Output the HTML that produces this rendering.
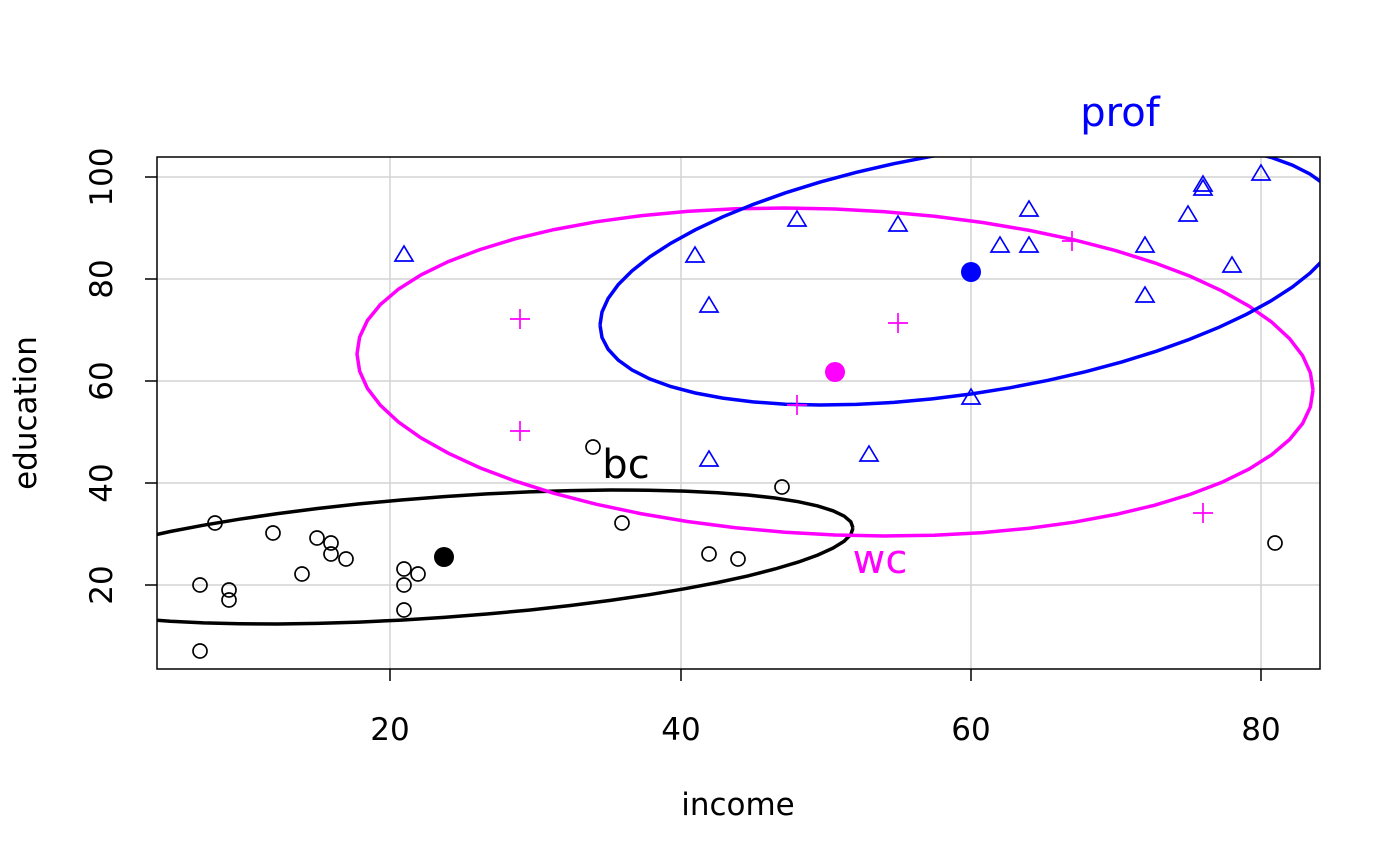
<!DOCTYPE html>
<html><head><meta charset="utf-8"><style>body{margin:0;background:#fff}svg{display:block}text{font-family:"DejaVu Sans","Liberation Sans",sans-serif}</style></head><body>
<svg width="1400" height="866" xmlns="http://www.w3.org/2000/svg">
<defs><clipPath id="c"><rect x="157" y="157" width="1163" height="512"/></clipPath></defs>
<g stroke="#d3d3d3" stroke-width="1.5">
<line x1="390" y1="157" x2="390" y2="669"/><line x1="681" y1="157" x2="681" y2="669"/><line x1="971" y1="157" x2="971" y2="669"/><line x1="1261" y1="157" x2="1261" y2="669"/>
<line x1="157" y1="585" x2="1320" y2="585"/><line x1="157" y1="483" x2="1320" y2="483"/><line x1="157" y1="381" x2="1320" y2="381"/><line x1="157" y1="279" x2="1320" y2="279"/><line x1="157" y1="177" x2="1320" y2="177"/>
</g>
<g id="ell" clip-path="url(#c)" fill="none" stroke-width="3.5"></g>
<g id="pts" fill="none" stroke-width="1.7"></g>
<rect x="157" y="157" width="1163" height="512" fill="none" stroke="#000" stroke-width="1.5"/>
<g stroke="#000" stroke-width="1.5">
<line x1="390" y1="669" x2="390" y2="681"/><line x1="681" y1="669" x2="681" y2="681"/><line x1="971" y1="669" x2="971" y2="681"/><line x1="1261" y1="669" x2="1261" y2="681"/>
<line x1="145" y1="585" x2="157" y2="585"/><line x1="145" y1="483" x2="157" y2="483"/><line x1="145" y1="381" x2="157" y2="381"/><line x1="145" y1="279" x2="157" y2="279"/><line x1="145" y1="177" x2="157" y2="177"/>
</g>
<g font-size="31" text-anchor="middle">
<text x="390" y="740">20</text><text x="681" y="740">40</text><text x="971" y="740">60</text><text x="1261" y="740">80</text>
<text transform="translate(112,585) rotate(-90)">20</text><text transform="translate(112,483) rotate(-90)">40</text><text transform="translate(112,381) rotate(-90)">60</text><text transform="translate(112,279) rotate(-90)">80</text><text transform="translate(112,177) rotate(-90)">100</text>
<text x="738" y="815">income</text>
<text transform="translate(36,413) rotate(-90)">education</text>
</g>
<g font-size="40" text-anchor="middle">
<text x="1120" y="126" fill="#00f">prof</text>
<text x="626" y="478" fill="#000">bc</text>
<text x="880" y="573" fill="#f0f">wc</text>
</g>
<circle cx="444" cy="557" r="10" fill="#000"/>
<circle cx="835" cy="372" r="10" fill="#f0f"/>
<circle cx="971" cy="272" r="10" fill="#00f"/>
</svg>
<script>
const ns="http://www.w3.org/2000/svg";
function ell(c,a,b,col){let d="";for(let i=0;i<=60;i++){const t=i/60*2*Math.PI;const x=c[0]+a[0]*Math.cos(t)+b[0]*Math.sin(t),y=c[1]+a[1]*Math.cos(t)+b[1]*Math.sin(t);d+=(i?"L":"M")+x.toFixed(1)+","+y.toFixed(1);}const p=document.createElementNS(ns,"path");p.setAttribute("d",d);p.setAttribute("stroke",col);document.getElementById("ell").appendChild(p);}
ell([444,557],[409,-29],[0,-60.4],"#000");
ell([835,372],[478,18],[0,-163],"#f0f");
ell([971,272],[-371,53],[0,122],"#00f");
const g=document.getElementById("pts");
function add(tag,attrs){const e=document.createElementNS(ns,tag);for(const k in attrs)e.setAttribute(k,attrs[k]);g.appendChild(e);}
[[200,651],[200,585],[215,523],[229,590],[229,600],[273,533],[302,574],[317,538],[331,543],[331,554],[346,559],[404,569],[404,585],[404,610],[418,574],[593,447],[622,523],[709,554],[738,559],[782,487],[1275,543]].forEach(p=>add("circle",{cx:p[0],cy:p[1],r:7,stroke:"#000"}));
[[520,319],[520,431],[797,405],[898,323],[1203,513],[1072,241]].forEach(p=>add("path",{d:`M${p[0]-10},${p[1]}h20M${p[0]},${p[1]-10}v20`,stroke:"#f0f"}));
[[404,255],[695,256],[709,306],[709,460],[797,220],[869,455],[898,225],[971,398],[1000,246],[1029,210],[1029,246],[1145,246],[1145,296],[1188,215],[1203,185],[1203,189],[1232,266],[1261,174]].forEach(p=>add("path",{d:`M${p[0]},${p[1]-9}L${p[0]+9},${p[1]+6}L${p[0]-9},${p[1]+6}Z`,stroke:"#00f"}));
</script>
</body></html>
